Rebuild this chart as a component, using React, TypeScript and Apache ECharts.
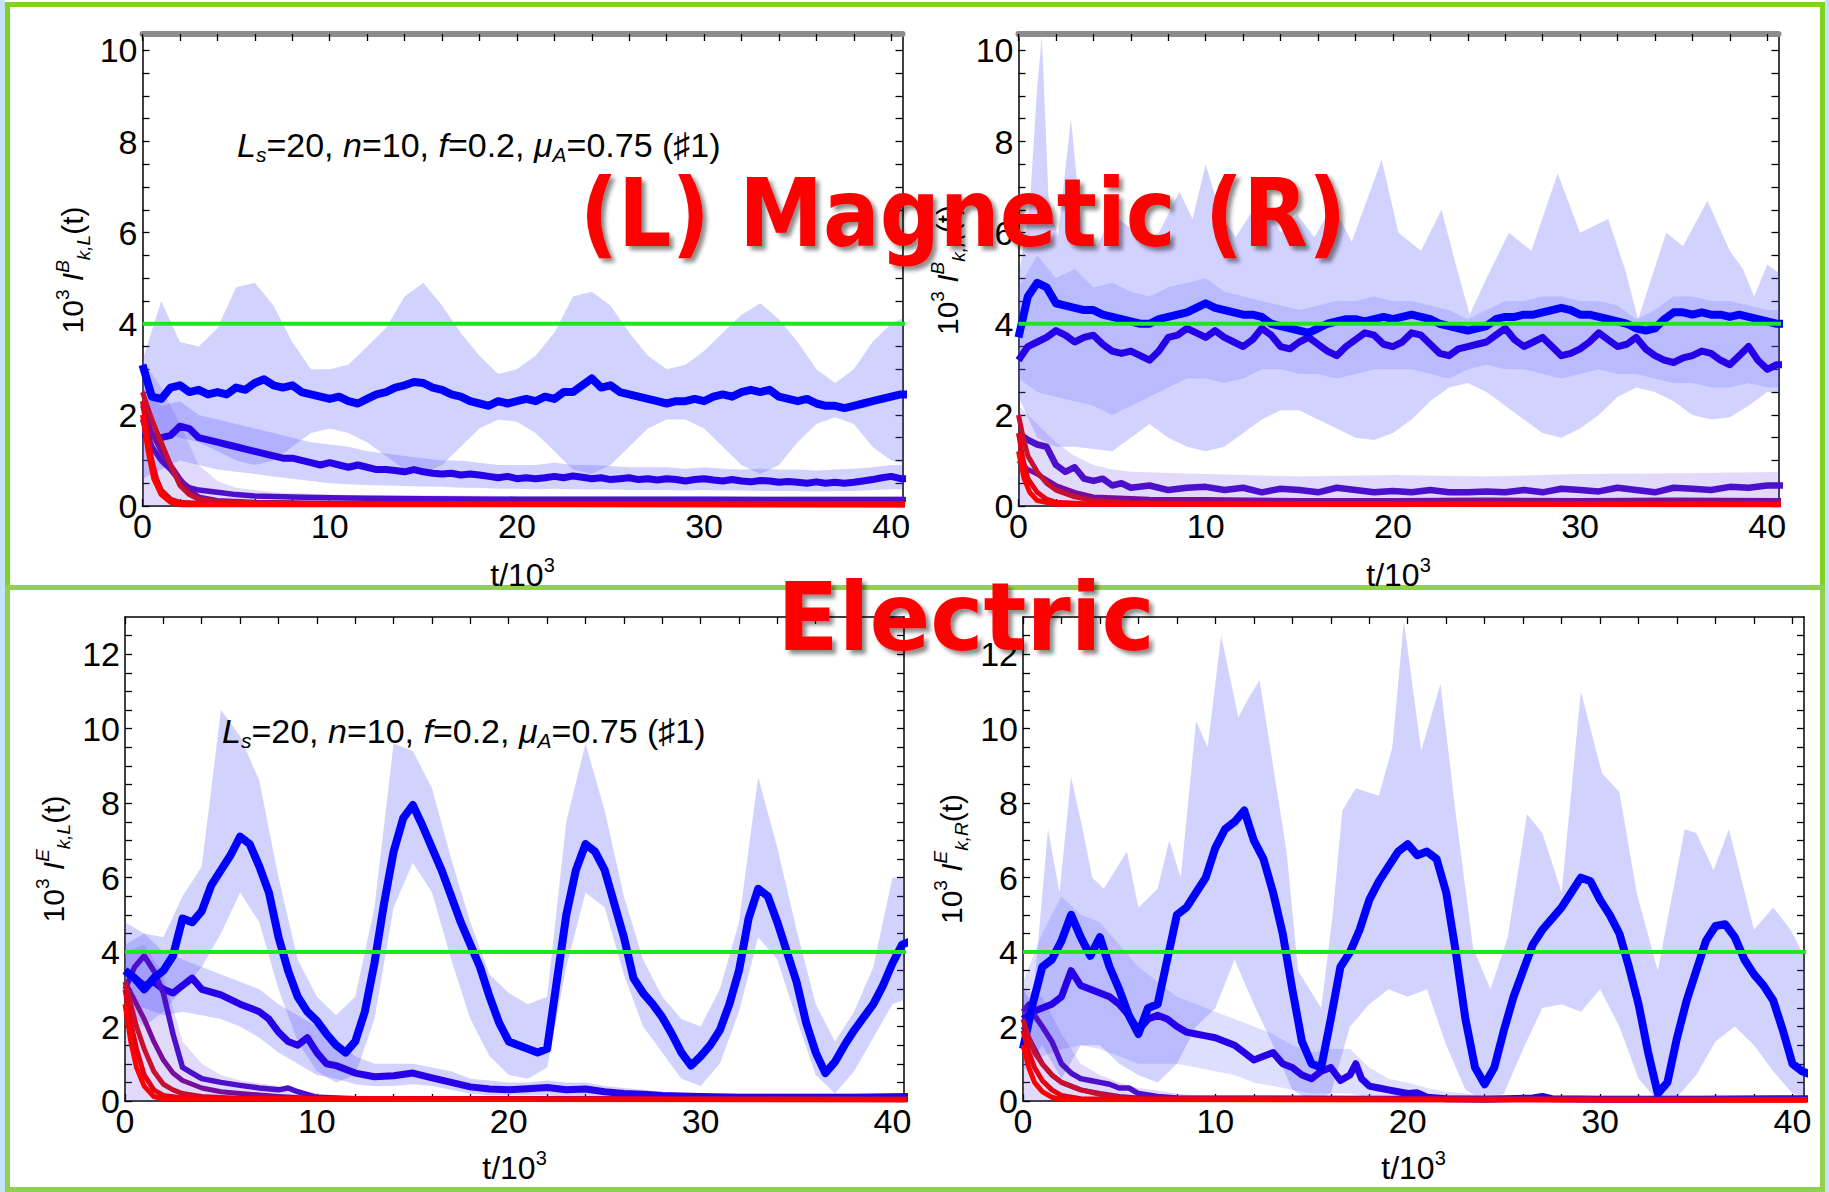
import React, { useEffect, useRef } from 'react';
import * as echarts from 'echarts';

// ---------------- axes ----------------
const X_MAX = 40.6;
const Y_MAX_MAG = 10.36;
const Y_MAX_EL = 13;
const X_LABELS = [0, 10, 20, 30, 40];
const Y_LABELS_MAG = [0, 2, 4, 6, 8, 10];
const Y_LABELS_EL = [0, 2, 4, 6, 8, 10, 12];
const X_TICKS = Array.from({ length: 21 }, (_, i) => i * 2);
const Y_TICKS_MAG = Array.from({ length: 21 }, (_, i) => i * 0.5);
const Y_TICKS_EL = Array.from({ length: 26 }, (_, i) => i * 0.5);
const EQUIPARTITION = 4;

// sampling: main curves every 0.5 (t = 0..41), envelopes every 1 (t = 0..41)
const MAIN_STEP = 0.5;
const BAND_STEP = 1;

// ---------------- Magnetic, L ----------------
const TL_A = [
  3.1, 2.4, 2.35, 2.6, 2.65, 2.5, 2.55, 2.45, 2.5, 2.45,
  2.6, 2.55, 2.7, 2.78, 2.65, 2.6, 2.65, 2.5, 2.45, 2.4,
  2.35, 2.4, 2.3, 2.25, 2.35, 2.45, 2.5, 2.6, 2.65, 2.72,
  2.7, 2.6, 2.55, 2.45, 2.4, 2.3, 2.25, 2.2, 2.3, 2.25,
  2.3, 2.35, 2.3, 2.4, 2.35, 2.5, 2.5, 2.65, 2.8, 2.6,
  2.65, 2.5, 2.45, 2.4, 2.35, 2.3, 2.25, 2.3, 2.3, 2.35,
  2.3, 2.4, 2.45, 2.4, 2.5, 2.55, 2.5, 2.55, 2.4, 2.35,
  2.3, 2.35, 2.25, 2.2, 2.2, 2.15, 2.2, 2.25, 2.3, 2.35,
  2.4, 2.45, 2.45,
];
const TL_B = [
  1.6, 1.55, 1.5, 1.55, 1.75, 1.7, 1.5, 1.45, 1.4, 1.35,
  1.3, 1.25, 1.2, 1.15, 1.1, 1.05, 1.05, 1.0, 0.95, 0.9,
  0.95, 0.9, 0.85, 0.9, 0.85, 0.8, 0.8, 0.78, 0.75, 0.8,
  0.75, 0.72, 0.7, 0.72, 0.68, 0.7, 0.68, 0.65, 0.62, 0.65,
  0.6, 0.62, 0.6, 0.62, 0.65, 0.62, 0.66, 0.63, 0.6, 0.62,
  0.58, 0.6, 0.62, 0.58, 0.6, 0.57, 0.6, 0.58, 0.55, 0.58,
  0.6, 0.57, 0.55, 0.58, 0.55, 0.53, 0.56, 0.55, 0.52, 0.54,
  0.52, 0.5, 0.53, 0.5, 0.52, 0.5, 0.52, 0.55, 0.58, 0.62,
  0.65, 0.6, 0.6,
];
const TL_C = [[0, 1.9], [0.5, 1.3], [1, 1.0], [1.5, 0.8], [2, 0.55], [2.5, 0.4], [3, 0.35], [4, 0.3], [5, 0.25], [6, 0.22], [8, 0.2], [10, 0.18], [12, 0.17], [15, 0.16], [20, 0.15], [25, 0.15], [30, 0.15], [35, 0.14], [41, 0.14]];
const TL_D = [[0, 2.2], [0.5, 1.6], [1, 1.2], [1.5, 0.9], [2, 0.6], [2.5, 0.35], [3, 0.2], [4, 0.12], [6, 0.08], [10, 0.06], [20, 0.05], [41, 0.05]];
const TL_R1 = [[0, 2.5], [0.5, 1.9], [1, 1.4], [1.5, 0.9], [2, 0.45], [2.5, 0.25], [3, 0.15], [4, 0.1], [6, 0.07], [10, 0.05], [41, 0.05]];
const TL_R2 = [[0, 2.3], [0.25, 1.6], [0.5, 1.0], [0.75, 0.6], [1, 0.35], [1.5, 0.15], [2, 0.08], [4, 0.04], [41, 0.03]];
const TL_R3 = [[0, 2.0], [0.3, 1.2], [0.6, 0.6], [1, 0.25], [1.5, 0.08], [2, 0.03], [41, 0.02]];
const TL_BAND_A_UP = [3.2, 4.5, 3.6, 3.5, 3.9, 4.8, 4.9, 4.4, 3.6, 3.0, 3.0, 3.1, 3.5, 3.9, 4.6, 4.9, 4.4, 3.8, 3.3, 2.9, 3.0, 3.3, 3.8, 4.6, 4.7, 4.4, 3.8, 3.3, 3.0, 3.1, 3.4, 3.8, 4.2, 4.45, 4.1, 3.6, 3.0, 2.7, 3.0, 3.6, 4.0, 4.2];
const TL_BAND_A_LO = [2.4, 1.6, 1.5, 1.4, 1.2, 1.0, 0.9, 1.0, 1.3, 1.6, 1.7, 1.6, 1.4, 1.1, 0.8, 0.7, 0.9, 1.3, 1.7, 1.9, 1.85, 1.6, 1.2, 0.8, 0.7, 0.9, 1.3, 1.7, 1.9, 1.9, 1.7, 1.3, 0.9, 0.7, 0.9, 1.4, 1.8, 1.95, 1.8, 1.3, 1.0, 0.9];
const TL_BAND_B_UP = [2.6, 2.2, 2.3, 2.0, 1.9, 1.8, 1.7, 1.6, 1.5, 1.4, 1.35, 1.3, 1.2, 1.15, 1.1, 1.05, 1.0, 1.0, 0.95, 0.9, 0.9, 0.9, 0.95, 0.9, 0.9, 0.88, 0.85, 0.85, 0.85, 0.82, 0.85, 0.82, 0.8, 0.82, 0.8, 0.8, 0.78, 0.8, 0.82, 0.85, 0.9, 0.9];
const TL_BAND_B_LO = [0.6, 0.8, 1.0, 0.9, 0.8, 0.75, 0.7, 0.65, 0.6, 0.55, 0.5, 0.48, 0.46, 0.45, 0.44, 0.43, 0.42, 0.4, 0.4, 0.38, 0.38, 0.37, 0.38, 0.37, 0.36, 0.36, 0.35, 0.35, 0.35, 0.34, 0.35, 0.34, 0.34, 0.33, 0.33, 0.33, 0.32, 0.33, 0.33, 0.35, 0.37, 0.37];
const TL_BAND_LOW_UP = [[0, 3.2], [1, 2.6], [2, 1.8], [3, 0.9], [4, 0.55], [5, 0.4], [7, 0.3], [10, 0.25], [20, 0.22], [30, 0.22], [41, 0.22]];
const ZERO_EDGE = [[0, 0], [41, 0]];

// ---------------- Magnetic, R ----------------
const TR_A = [
  3.7, 4.6, 4.9, 4.8, 4.45, 4.4, 4.35, 4.3, 4.3, 4.2,
  4.15, 4.1, 4.05, 4.0, 4.0, 4.1, 4.15, 4.2, 4.25, 4.35,
  4.45, 4.35, 4.3, 4.25, 4.2, 4.2, 4.15, 4.0, 3.95, 3.9,
  3.85, 3.8, 3.9, 4.0, 4.05, 4.1, 4.1, 4.05, 4.1, 4.15,
  4.1, 4.15, 4.2, 4.15, 4.1, 4.0, 3.95, 3.9, 3.85, 3.9,
  3.95, 4.1, 4.15, 4.15, 4.2, 4.2, 4.25, 4.3, 4.35, 4.3,
  4.2, 4.2, 4.15, 4.1, 4.05, 4.0, 3.9, 3.85, 3.9, 4.1,
  4.25, 4.25, 4.2, 4.25, 4.2, 4.2, 4.15, 4.2, 4.15, 4.1,
  4.05, 4.0, 4.0,
];
const TR_B = [
  3.2, 3.5, 3.6, 3.7, 3.85, 3.75, 3.6, 3.7, 3.75, 3.55,
  3.4, 3.35, 3.4, 3.3, 3.2, 3.4, 3.7, 3.75, 3.9, 3.8,
  3.7, 3.85, 3.7, 3.6, 3.5, 3.65, 3.9, 3.75, 3.5, 3.45,
  3.6, 3.7, 3.55, 3.4, 3.3, 3.5, 3.65, 3.8, 3.75, 3.55,
  3.5, 3.6, 3.8, 3.75, 3.55, 3.35, 3.3, 3.45, 3.5, 3.55,
  3.6, 3.75, 3.9, 3.65, 3.5, 3.6, 3.7, 3.5, 3.3, 3.35,
  3.45, 3.6, 3.8, 3.65, 3.5, 3.55, 3.7, 3.45, 3.3, 3.2,
  3.15, 3.25, 3.3, 3.4, 3.35, 3.2, 3.1, 3.3, 3.5, 3.2,
  3.0, 3.1, 3.1,
];
const TR_C = [[0, 1.6], [0.5, 1.45], [1, 1.35], [1.5, 1.3], [2, 0.9], [2.5, 0.75], [3, 0.85], [3.5, 0.6], [4, 0.55], [4.5, 0.6], [5, 0.45], [5.5, 0.5], [6, 0.4], [7, 0.45], [8, 0.35], [9, 0.4], [10, 0.42], [11, 0.35], [12, 0.4], [13, 0.3], [14, 0.38], [15, 0.35], [16, 0.3], [17, 0.4], [18, 0.35], [19, 0.3], [20, 0.33], [21, 0.3], [22, 0.35], [23, 0.3], [24, 0.3], [25, 0.32], [26, 0.3], [27, 0.35], [28, 0.3], [29, 0.38], [30, 0.35], [31, 0.32], [32, 0.4], [33, 0.35], [34, 0.3], [35, 0.4], [36, 0.38], [37, 0.35], [38, 0.42], [39, 0.4], [40, 0.45], [41, 0.45]];
const TR_D = [[0, 1.0], [0.5, 0.8], [1, 0.7], [2, 0.45], [3, 0.3], [4, 0.2], [5, 0.18], [7, 0.15], [10, 0.14], [15, 0.12], [20, 0.12], [25, 0.13], [30, 0.12], [35, 0.13], [41, 0.12]];
const TR_R1 = [[0, 2.0], [0.25, 1.5], [0.5, 1.1], [1, 0.75], [1.5, 0.5], [2, 0.35], [3, 0.2], [4, 0.12], [6, 0.07], [10, 0.05], [41, 0.05]];
const TR_R2 = [[0, 1.6], [0.25, 1.0], [0.5, 0.6], [1, 0.3], [1.5, 0.15], [2, 0.08], [4, 0.04], [41, 0.04]];
const TR_R3 = [[0, 1.2], [0.3, 0.6], [0.6, 0.3], [1, 0.12], [2, 0.04], [41, 0.03]];
const TR_BAND_OUT_UP = [[0, 5.0], [0.6, 6.6], [1.0, 9.2], [1.25, 10.3], [1.6, 6.8], [2.1, 5.9], [2.8, 8.5], [3.4, 6.0], [4.2, 5.7], [5, 6.4], [6, 6.1], [7, 5.9], [7.5, 6.0], [8.6, 6.9], [9.3, 6.3], [10, 7.5], [10.8, 6.4], [11.6, 5.9], [13, 6.8], [14, 6.0], [14.9, 6.4], [15.8, 5.9], [16.8, 6.6], [17.8, 5.8], [19.4, 7.6], [20.3, 6.0], [21.5, 5.6], [22.6, 6.5], [23.3, 5.4], [24.1, 4.2], [25, 5.0], [26.2, 6.0], [27.4, 5.6], [28.8, 7.3], [30, 6.0], [31.5, 6.3], [32.4, 5.2], [33.1, 4.1], [34.6, 6.0], [35.5, 5.7], [36.8, 6.7], [38, 5.6], [38.7, 5.2], [39.3, 4.6], [40, 5.3], [41, 5.0]];
const TR_BAND_OUT_LO = [2.4, 1.5, 1.3, 1.3, 1.25, 1.2, 1.5, 1.8, 1.5, 1.3, 1.2, 1.3, 1.6, 1.9, 2.1, 2.1, 1.9, 1.7, 1.5, 1.45, 1.6, 1.9, 2.3, 2.6, 2.7, 2.5, 2.2, 1.9, 1.6, 1.5, 1.7, 2.0, 2.4, 2.6, 2.5, 2.3, 2.0, 1.9, 1.95, 2.2, 2.5, 2.5];
const TR_BAND_IN_UP = [4.8, 5.5, 5.0, 5.2, 4.8, 4.9, 4.7, 4.6, 4.8, 4.9, 5.0, 4.7, 4.6, 4.5, 4.4, 4.3, 4.4, 4.5, 4.5, 4.6, 4.5, 4.5, 4.4, 4.3, 4.1, 4.3, 4.5, 4.5, 4.6, 4.6, 4.5, 4.5, 4.4, 4.1, 4.3, 4.6, 4.6, 4.5, 4.5, 4.4, 4.3, 4.3];
const TR_BAND_IN_LO = [2.8, 2.5, 2.4, 2.3, 2.2, 2.0, 2.2, 2.4, 2.6, 2.8, 2.8, 2.7, 2.8, 3.0, 3.0, 2.9, 2.9, 2.8, 2.9, 3.0, 3.0, 3.0, 2.9, 2.8, 3.0, 3.1, 3.0, 3.0, 2.9, 2.8, 2.9, 3.0, 2.9, 2.9, 2.8, 2.7, 2.7, 2.6, 2.6, 2.7, 2.6, 2.6];
const TR_BAND_LOW_UP = [[0, 2.2], [1, 1.8], [2, 1.4], [3, 1.1], [4, 0.9], [5, 0.8], [6, 0.75], [10, 0.7], [15, 0.65], [20, 0.68], [25, 0.65], [30, 0.7], [35, 0.72], [41, 0.75]];

// ---------------- Electric, L ----------------
const BL_A = [
  3.5, 3.3, 3.0, 3.3, 3.5, 3.9, 4.9, 4.8, 5.1, 5.8,
  6.2, 6.6, 7.1, 6.9, 6.3, 5.6, 4.4, 3.5, 2.8, 2.4,
  2.15, 1.8, 1.5, 1.3, 1.6, 2.4, 3.7, 5.3, 6.7, 7.6,
  7.95, 7.4, 6.8, 6.2, 5.5, 4.8, 4.2, 3.6, 2.8, 2.1,
  1.6, 1.5, 1.4, 1.3, 1.4, 3.2, 5.0, 6.2, 6.9, 6.7,
  6.2, 5.3, 4.4, 3.3, 2.9, 2.6, 2.25, 1.8, 1.3, 0.95,
  1.2, 1.5, 1.9, 2.6, 3.5, 4.9, 5.7, 5.5, 4.8, 4.0,
  3.2, 2.1, 1.3, 0.75, 1.05, 1.5, 1.9, 2.25, 2.6, 3.1,
  3.7, 4.2, 4.3,
];
const BL_B = [[0, 3.5], [0.5, 3.3], [1, 3.1], [1.5, 3.2], [2, 3.0], [2.5, 2.9], [3, 3.1], [3.5, 3.3], [4, 3.0], [5, 2.85], [6, 2.6], [7, 2.4], [7.5, 2.2], [8, 1.85], [8.5, 1.6], [9, 1.5], [9.5, 1.7], [10, 1.3], [10.5, 1.0], [11, 0.95], [12, 0.75], [13, 0.65], [14, 0.68], [15, 0.75], [16, 0.62], [17, 0.5], [18, 0.38], [19, 0.32], [20, 0.3], [21, 0.33], [22, 0.36], [23, 0.3], [24, 0.32], [25, 0.25], [26, 0.2], [27, 0.18], [28, 0.15], [30, 0.12], [32, 0.1], [35, 0.1], [38, 0.1], [41, 0.12]];
const BL_C = [[0, 3.0], [0.5, 3.6], [1, 3.9], [1.5, 3.5], [2, 2.9], [2.5, 1.8], [3, 0.9], [3.5, 0.75], [4, 0.6], [5, 0.5], [6, 0.42], [7, 0.35], [8, 0.3], [8.5, 0.35], [9, 0.25], [10, 0.1], [12, 0.06], [41, 0.05]];
const BL_D = [[0, 3.2], [0.5, 2.7], [1, 2.2], [1.5, 1.6], [2, 1.1], [2.5, 0.75], [3, 0.55], [4, 0.35], [5, 0.25], [6, 0.2], [8, 0.12], [10, 0.06], [41, 0.05]];
const BL_R1 = [[0, 3.2], [0.3, 2.6], [0.6, 2.0], [1, 1.4], [1.5, 0.8], [2, 0.45], [2.5, 0.3], [3, 0.2], [4, 0.12], [6, 0.07], [10, 0.05], [41, 0.05]];
const BL_R2 = [[0, 3.0], [0.3, 2.1], [0.6, 1.4], [1, 0.7], [1.5, 0.3], [2, 0.15], [3, 0.08], [41, 0.04]];
const BL_R3 = [[0, 2.6], [0.3, 1.6], [0.6, 0.9], [1, 0.4], [1.5, 0.12], [2, 0.05], [41, 0.03]];
const BL_BAND_A_UP = [4.8, 4.5, 4.4, 5.5, 6.3, 10.5, 9.8, 8.6, 6.0, 3.8, 2.8, 2.3, 2.8, 5.2, 9.6, 9.4, 8.4, 6.5, 4.8, 3.4, 2.9, 2.6, 2.8, 7.5, 9.6, 7.8, 5.5, 3.8, 2.8, 2.2, 2.0, 3.0, 4.8, 8.7, 6.8, 4.6, 2.6, 1.6, 2.4, 3.6, 6.0, 6.0];
const BL_BAND_A_LO = [2.5, 2.0, 2.4, 3.0, 3.6, 4.5, 5.6, 4.8, 3.0, 1.6, 0.8, 0.5, 0.7, 2.2, 5.2, 6.4, 5.6, 3.8, 2.2, 1.2, 0.7, 0.6, 0.9, 3.6, 5.6, 5.2, 3.4, 2.0, 1.3, 0.6, 0.4, 1.0, 2.4, 4.4, 3.8, 2.2, 0.7, 0.2, 0.8, 1.7, 2.6, 2.8];
const BL_BAND_B_UP = [4.2, 4.5, 4.0, 3.8, 3.6, 3.4, 3.2, 3.0, 2.6, 2.3, 2.0, 1.6, 1.2, 1.0, 1.0, 1.0, 0.9, 0.8, 0.6, 0.55, 0.5, 0.5, 0.55, 0.5, 0.5, 0.4, 0.35, 0.3, 0.25, 0.2, 0.2, 0.2, 0.2, 0.2, 0.2, 0.2, 0.2, 0.2, 0.2, 0.2, 0.2, 0.2];
const BL_BAND_B_LO = [2.6, 2.5, 2.3, 2.4, 2.3, 2.2, 2.0, 1.7, 1.3, 1.0, 0.7, 0.6, 0.45, 0.4, 0.4, 0.45, 0.4, 0.3, 0.2, 0.15, 0.15, 0.15, 0.15, 0.12, 0.12, 0.1, 0.08, 0.08, 0.08, 0.08, 0.08, 0.08, 0.08, 0.08, 0.08, 0.08, 0.08, 0.08, 0.08, 0.08, 0.08, 0.08];
const BL_BAND_LOW_UP = [[0, 4.0], [1, 4.2], [2, 3.4], [3, 1.6], [4, 1.0], [5, 0.7], [6, 0.55], [8, 0.4], [10, 0.2], [12, 0.1], [41, 0.08]];

// ---------------- Electric, R ----------------
const BR_A = [
  1.4, 2.6, 3.6, 3.8, 4.3, 5.0, 4.4, 3.9, 4.4, 3.6,
  3.0, 2.3, 1.8, 2.5, 2.6, 3.8, 5.0, 5.2, 5.6, 6.0,
  6.8, 7.3, 7.5, 7.8, 7.0, 6.5, 5.6, 4.5, 3.0, 1.6,
  1.0, 0.9, 2.2, 3.6, 4.0, 4.6, 5.4, 5.9, 6.3, 6.7,
  6.9, 6.6, 6.7, 6.5, 5.6, 4.0, 2.2, 0.9, 0.45, 0.9,
  1.9, 2.8, 3.5, 4.2, 4.6, 4.9, 5.2, 5.6, 6.0, 5.9,
  5.4, 5.0, 4.5, 3.6, 2.6, 1.3, 0.2, 0.5, 1.7, 2.7,
  3.5, 4.3, 4.7, 4.75, 4.4, 3.8, 3.4, 3.1, 2.7, 1.9,
  1.0, 0.8, 0.7,
];
const BR_B = [[0, 2.2], [0.5, 2.4], [1, 2.5], [1.5, 2.6], [2, 2.8], [2.5, 3.5], [3, 3.1], [3.5, 3.0], [4, 2.9], [4.5, 2.8], [5, 2.6], [5.5, 2.3], [6, 1.9], [6.5, 2.2], [7, 2.3], [7.5, 2.2], [8, 2.0], [8.5, 1.85], [9, 1.8], [9.5, 1.75], [10, 1.7], [10.5, 1.6], [11, 1.5], [11.5, 1.3], [12, 1.1], [12.5, 1.2], [13, 1.3], [13.5, 1.0], [14, 0.9], [14.5, 0.7], [15, 0.6], [15.5, 0.8], [16, 0.9], [16.5, 0.55], [17, 0.7], [17.3, 1.0], [17.6, 0.6], [18, 0.4], [18.5, 0.35], [19, 0.3], [19.5, 0.25], [20, 0.2], [20.5, 0.22], [21, 0.1], [22, 0.06], [24, 0.05], [26.5, 0.08], [27, 0.12], [27.5, 0.06], [30, 0.05], [35, 0.05], [41, 0.06]];
const BR_C = [[0, 2.4], [0.3, 2.6], [0.6, 2.3], [1, 2.0], [1.5, 1.6], [2, 1.0], [2.5, 0.75], [3, 0.6], [3.5, 0.55], [4, 0.5], [4.5, 0.45], [5, 0.35], [5.5, 0.35], [6, 0.2], [7, 0.12], [8, 0.08], [41, 0.05]];
const BR_D = [[0, 2.0], [0.5, 1.5], [1, 1.0], [1.5, 0.7], [2, 0.5], [3, 0.3], [4, 0.2], [5, 0.12], [6, 0.08], [41, 0.04]];
const BR_R1 = [[0, 2.2], [0.3, 1.7], [0.6, 1.3], [1, 1.0], [1.5, 0.7], [2, 0.5], [3, 0.3], [4, 0.18], [5, 0.1], [6, 0.06], [41, 0.04]];
const BR_R2 = [[0, 1.9], [0.3, 1.3], [0.6, 0.9], [1, 0.55], [1.5, 0.3], [2, 0.15], [3, 0.06], [41, 0.03]];
const BR_R3 = [[0, 1.5], [0.3, 0.9], [0.6, 0.5], [1, 0.25], [1.5, 0.1], [2, 0.04], [41, 0.02]];
const BR_BAND_A_UP = [[0, 3.0], [0.5, 2.6], [1.3, 7.3], [1.9, 5.6], [2.5, 8.7], [3.1, 7.3], [3.6, 6.0], [4.2, 5.7], [5.4, 6.7], [6, 5.2], [7, 5.7], [7.6, 7.0], [8.2, 6.0], [9.0, 10.2], [9.6, 9.5], [10.3, 12.5], [11.2, 10.3], [11.7, 10.8], [12.3, 11.3], [13, 9.0], [13.7, 6.7], [14.3, 3.5], [15.5, 2.5], [16.1, 5.0], [16.6, 7.8], [17.3, 8.4], [18.5, 8.2], [19.2, 9.5], [19.8, 12.9], [20.7, 9.4], [21.7, 11.2], [22.5, 7.7], [23.4, 4.1], [24.3, 3.0], [25.2, 4.4], [26.2, 7.7], [27, 7.2], [28, 5.6], [29, 11.0], [30.1, 8.8], [31, 8.3], [31.9, 5.6], [33, 3.5], [34.4, 7.3], [35, 7.2], [35.9, 6.2], [36.7, 7.3], [38, 4.6], [39, 5.2], [39.9, 4.6], [41, 3.5]];
const BR_BAND_A_LO = [0.8, 1.5, 0.6, 1.5, 1.5, 1.0, 0.7, 0.5, 1.0, 2.0, 2.5, 3.8, 2.6, 1.5, 0.3, 0.0, 0.2, 2.0, 2.6, 3.0, 2.8, 3.0, 1.5, 0.3, 0.0, 0.2, 1.4, 2.5, 2.6, 2.4, 3.0, 2.0, 0.6, 0.0, 0.1, 0.7, 1.6, 2.0, 1.5, 0.8, 0.2, 0.1];
const BR_BAND_B_UP = [3.2, 4.5, 5.5, 5.0, 4.8, 4.2, 3.6, 3.2, 2.8, 2.6, 2.4, 2.2, 2.0, 1.8, 1.5, 1.3, 1.4, 1.4, 0.9, 0.6, 0.5, 0.35, 0.25, 0.2, 0.15, 0.15, 0.15, 0.15, 0.15, 0.15, 0.15, 0.15, 0.15, 0.15, 0.15, 0.15, 0.15, 0.15, 0.15, 0.15, 0.15, 0.15];
const BR_BAND_B_LO = [1.0, 1.2, 1.4, 1.5, 1.4, 1.2, 1.0, 1.0, 1.0, 0.9, 0.8, 0.7, 0.5, 0.4, 0.3, 0.2, 0.2, 0.2, 0.1, 0.05, 0.05, 0.05, 0.05, 0.05, 0.05, 0.05, 0.05, 0.05, 0.05, 0.05, 0.05, 0.05, 0.05, 0.05, 0.05, 0.05, 0.05, 0.05, 0.05, 0.05, 0.05, 0.05];
const BR_BAND_LOW_UP = [[0, 3.0], [1, 2.8], [2, 1.8], [3, 1.0], [4, 0.7], [5, 0.5], [6, 0.35], [8, 0.2], [10, 0.1], [41, 0.08]];

// ---------------- styling ----------------
const FONT = '"Liberation Sans", Arial, Helvetica, sans-serif';
const C_A = '#0000ff';
const C_B = '#2600e8';
const C_C = '#4c10cc';
const C_D = '#780c9c';
const C_R1 = '#c8102e';
const C_R2 = '#e60014';
const C_R3 = '#ff0000';
const BAND = 'rgba(90,90,255,0.27)';
const BAND_IN = 'rgba(90,90,255,0.2)';
const BAND_LOW = 'rgba(110,70,230,0.2)';
const W_A = 8;
const W_B = 7;
const W_C = 5.5;
const W_D = 5;
const W_R = 5;

const onGrid = (ys: number[], step: number) => ys.map((y, i) => [i * step, y]);

const PANELS = [
  {
    grid: { left: 142.5, top: 34, width: 760, height: 472 },
    ymax: Y_MAX_MAG, yLabels: Y_LABELS_MAG, yTicks: Y_TICKS_MAG, topGray: true,
    sup: 'B', sub: 'k,L', yGap: 50,
    bands: [
      { up: TL_BAND_LOW_UP, lo: ZERO_EDGE, fill: BAND_LOW },
      { up: onGrid(TL_BAND_B_UP, BAND_STEP), lo: onGrid(TL_BAND_B_LO, BAND_STEP), fill: BAND },
      { up: onGrid(TL_BAND_A_UP, BAND_STEP), lo: onGrid(TL_BAND_A_LO, BAND_STEP), fill: BAND },
    ],
    lines: [
      { data: onGrid(TL_B, MAIN_STEP), color: C_B, width: W_B },
      { data: TL_C, color: C_C, width: W_C },
      { data: TL_D, color: C_D, width: W_D },
      { data: onGrid(TL_A, MAIN_STEP), color: C_A, width: W_A },
      { data: TL_R1, color: C_R1, width: W_R },
      { data: TL_R2, color: C_R2, width: W_R },
      { data: TL_R3, color: C_R3, width: W_R },
    ],
  },
  {
    grid: { left: 1018.5, top: 34, width: 760, height: 472 },
    ymax: Y_MAX_MAG, yLabels: Y_LABELS_MAG, yTicks: Y_TICKS_MAG, topGray: true,
    sup: 'B', sub: 'k,R', yGap: 51,
    bands: [
      { up: TR_BAND_LOW_UP, lo: ZERO_EDGE, fill: BAND_LOW },
      { up: TR_BAND_OUT_UP, lo: onGrid(TR_BAND_OUT_LO, BAND_STEP), fill: BAND },
      { up: onGrid(TR_BAND_IN_UP, BAND_STEP), lo: onGrid(TR_BAND_IN_LO, BAND_STEP), fill: BAND_IN },
    ],
    lines: [
      { data: TR_C, color: C_C, width: W_B - 0.5 },
      { data: TR_D, color: C_D, width: W_D },
      { data: onGrid(TR_B, MAIN_STEP), color: C_B, width: W_B },
      { data: onGrid(TR_A, MAIN_STEP), color: C_A, width: W_A },
      { data: TR_R1, color: C_R1, width: W_R },
      { data: TR_R2, color: C_R2, width: W_R },
      { data: TR_R3, color: C_R3, width: W_R },
    ],
  },
  {
    grid: { left: 125, top: 617, width: 779, height: 484 },
    ymax: Y_MAX_EL, yLabels: Y_LABELS_EL, yTicks: Y_TICKS_EL, topGray: false,
    sup: 'E', sub: 'k,L', yGap: 52,
    bands: [
      { up: BL_BAND_LOW_UP, lo: ZERO_EDGE, fill: BAND_LOW },
      { up: onGrid(BL_BAND_B_UP, BAND_STEP), lo: onGrid(BL_BAND_B_LO, BAND_STEP), fill: BAND },
      { up: onGrid(BL_BAND_A_UP, BAND_STEP), lo: onGrid(BL_BAND_A_LO, BAND_STEP), fill: BAND },
    ],
    lines: [
      { data: BL_B, color: C_B, width: W_B },
      { data: BL_C, color: C_C, width: W_C },
      { data: BL_D, color: C_D, width: W_D },
      { data: onGrid(BL_A, MAIN_STEP), color: C_A, width: W_A },
      { data: BL_R1, color: C_R1, width: W_R },
      { data: BL_R2, color: C_R2, width: W_R },
      { data: BL_R3, color: C_R3, width: W_R },
    ],
  },
  {
    grid: { left: 1023, top: 617, width: 781, height: 484 },
    ymax: Y_MAX_EL, yLabels: Y_LABELS_EL, yTicks: Y_TICKS_EL, topGray: false,
    sup: 'E', sub: 'k,R', yGap: 52,
    bands: [
      { up: BR_BAND_LOW_UP, lo: ZERO_EDGE, fill: BAND_LOW },
      { up: onGrid(BR_BAND_B_UP, BAND_STEP), lo: onGrid(BR_BAND_B_LO, BAND_STEP), fill: BAND_IN },
      { up: BR_BAND_A_UP, lo: onGrid(BR_BAND_A_LO, BAND_STEP), fill: BAND },
    ],
    lines: [
      { data: BR_B, color: C_B, width: W_B },
      { data: BR_C, color: C_C, width: W_C },
      { data: BR_D, color: C_D, width: W_D },
      { data: onGrid(BR_A, MAIN_STEP), color: C_A, width: W_A },
      { data: BR_R1, color: C_R1, width: W_R },
      { data: BR_R2, color: C_R2, width: W_R },
      { data: BR_R3, color: C_R3, width: W_R },
    ],
  },
];

const richBase = (size: number) => ({
  n: { fontFamily: FONT, fontSize: size, lineHeight: 40, color: '#000', verticalAlign: 'middle' },
  i: { fontFamily: FONT, fontSize: size, lineHeight: 40, color: '#000', fontStyle: 'italic', verticalAlign: 'middle' },
  sup: { fontFamily: FONT, fontSize: Math.round(size * 0.62), lineHeight: 20, color: '#000', verticalAlign: 'top' },
  supi: { fontFamily: FONT, fontSize: Math.round(size * 0.62), lineHeight: 20, color: '#000', fontStyle: 'italic', verticalAlign: 'top' },
  sub: { fontFamily: FONT, fontSize: Math.round(size * 0.62), lineHeight: 20, color: '#000', fontStyle: 'italic', verticalAlign: 'bottom' },
  g: { fontFamily: FONT, fontSize: size, lineHeight: 40, color: '#555', verticalAlign: 'middle' },
});

function buildOption() {
  const grid = PANELS.map((p) => p.grid);
  const xAxis: any[] = [];
  const yAxis: any[] = [];
  const series: any[] = [];
  const tickStyle = { color: '#000', width: 1.3 };

  PANELS.forEach((p, i) => {
    xAxis[i] = {
      gridIndex: i, type: 'value', min: 0, max: X_MAX, position: 'bottom',
      axisLine: { show: true, onZero: false, lineStyle: { color: '#000', width: 1.5 } },
      axisTick: { show: true, inside: true, length: 7, customValues: X_TICKS, lineStyle: tickStyle },
      splitLine: { show: false },
      axisLabel: { show: true, customValues: X_LABELS, fontFamily: FONT, fontSize: 34, color: '#000', margin: 3 },
      name: '{n|t/10}{sup|3}', nameLocation: 'middle', nameGap: i < 2 ? 49 : 47,
      nameTextStyle: { rich: richBase(32) },
    };
    xAxis[i + 4] = {
      gridIndex: i, type: 'value', min: 0, max: X_MAX, position: 'top',
      axisLine: { show: true, onZero: false, lineStyle: p.topGray ? { color: '#8c8c8c', width: 6 } : { color: '#000', width: 1.5 } },
      axisTick: { show: true, inside: true, length: 7, customValues: X_TICKS, lineStyle: tickStyle },
      splitLine: { show: false },
      axisLabel: { show: false },
    };
    yAxis[i] = {
      gridIndex: i, type: 'value', min: 0, max: p.ymax, position: 'left',
      axisLine: { show: true, onZero: false, lineStyle: { color: '#000', width: 1.5 } },
      axisTick: { show: true, inside: true, length: 7, customValues: p.yTicks, lineStyle: tickStyle },
      splitLine: { show: false },
      axisLabel: { show: true, customValues: p.yLabels, fontFamily: FONT, fontSize: 34, color: '#000', margin: 5 },
      name: `{n|10}{sup|3}{n| }{i|I}{supi|${p.sup}}{sub|${p.sub}}{n|(t)}`,
      nameLocation: 'middle', nameRotate: 90, nameGap: p.yGap,
      nameTextStyle: { rich: richBase(30) },
    };
    yAxis[i + 4] = {
      gridIndex: i, type: 'value', min: 0, max: p.ymax, position: 'right',
      axisLine: { show: true, onZero: false, lineStyle: { color: '#000', width: 1.5 } },
      axisTick: { show: true, inside: true, length: 7, customValues: p.yTicks, lineStyle: tickStyle },
      splitLine: { show: false },
      axisLabel: { show: false },
    };

    p.bands.forEach((b) => {
      series.push({
        type: 'custom', xAxisIndex: i, yAxisIndex: i, coordinateSystem: 'cartesian2d',
        clip: true, silent: true, z: 1, data: [[0, 0]],
        renderItem: (_params: any, api: any) => {
          const pts = [
            ...b.up.map((pt) => api.coord(pt)),
            ...b.lo.slice().reverse().map((pt) => api.coord(pt)),
          ];
          return { type: 'polygon', shape: { points: pts }, style: { fill: b.fill, stroke: null } };
        },
      });
    });
    p.lines.forEach((l) => {
      series.push({
        type: 'line', xAxisIndex: i, yAxisIndex: i, data: l.data, symbol: 'none', showSymbol: false,
        silent: true, z: 2, clip: true,
        lineStyle: { color: l.color, width: l.width, join: 'round' },
        itemStyle: { color: l.color },
      });
    });
    series.push({
      type: 'line', xAxisIndex: i, yAxisIndex: i, data: [[0, EQUIPARTITION], [41, EQUIPARTITION]],
      symbol: 'none', silent: true, z: 3, clip: true,
      lineStyle: { color: '#1ee61e', width: 4 },
    });
  });

  const annot = '{i|L}{sub|s}{n|=20, }{i|n}{n|=10, }{i|f}{n|=0.2, }{i|μ}{sub|A}{n|=0.75 }{g|(♯1)}';
  const titleStyle = (text: string) => ({
    text, fontFamily: '"DejaVu Sans", Verdana, sans-serif', fontWeight: 'bold', fontSize: 95,
    fill: '#ff0000', align: 'center', verticalAlign: 'middle',
    textShadowColor: 'rgba(0,0,0,0.45)', textShadowBlur: 4, textShadowOffsetX: 4, textShadowOffsetY: 4,
  });

  const graphic = [
    { type: 'rect', z: 0, shape: { x: 0, y: 0, width: 5, height: 1192 }, style: { fill: '#c4e2f8' } },
    { type: 'rect', z: 0, shape: { x: 1825, y: 0, width: 4, height: 1192 }, style: { fill: '#c4e2f8' } },
    { type: 'rect', z: 0, shape: { x: 7.5, y: 4.5, width: 1815, height: 583 }, style: { fill: 'none', stroke: '#7ed321', lineWidth: 5 } },
    { type: 'rect', z: 0, shape: { x: 7.5, y: 587.5, width: 1815, height: 602 }, style: { fill: 'none', stroke: '#92d050', lineWidth: 5 } },
    { type: 'text', z: 50, x: 237, y: 145, style: { text: annot, rich: richBase(34), align: 'left', verticalAlign: 'middle' } },
    { type: 'text', z: 50, x: 222, y: 731, style: { text: annot, rich: richBase(34), align: 'left', verticalAlign: 'middle' } },
    { type: 'text', z: 100, x: 963, y: 213, scaleX: 0.885, style: titleStyle('(L) Magnetic (R)') },
    { type: 'text', z: 100, x: 966, y: 617, scaleX: 0.945, style: titleStyle('Electric') },
  ];

  return { animation: false, backgroundColor: '#ffffff', grid, xAxis, yAxis, series, graphic };
}

export default function App() {
  const ref = useRef<HTMLDivElement>(null);
  useEffect(() => {
    if (!ref.current) return;
    const chart = echarts.init(ref.current, null, { renderer: 'svg' });
    chart.setOption(buildOption() as any);
    return () => chart.dispose();
  }, []);
  return <div ref={ref} style={{ position: 'absolute', left: 0, top: 0, width: 1829, height: 1192 }} />;
}
